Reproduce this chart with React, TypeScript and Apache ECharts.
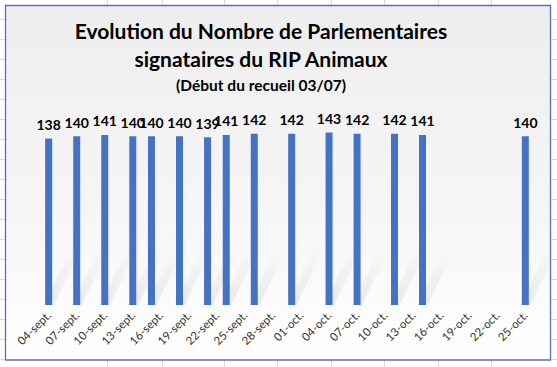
import React, { useEffect, useRef } from "react";
import * as echarts from "echarts";

const titleLine1 = "Evolution du Nombre de Parlementaires";
const titleLine2 = "signataires du RIP Animaux";
const subtitle = "(Début du recueil 03/07)";

// axis domain: every day from 04-sept. to 25-oct.
const septDays = { first: 4, last: 30, suffix: "-sept." };
const octDays = { first: 1, last: 25, suffix: "-oct." };

// observed points
const dates = [
  "04-sept.", "07-sept.", "10-sept.", "13-sept.", "15-sept.", "18-sept.", "21-sept.",
  "23-sept.", "26-sept.", "30-sept.", "04-oct.", "07-oct.", "11-oct.", "14-oct.", "25-oct.",
];
const values = [138, 140, 141, 140, 140, 140, 139, 141, 142, 142, 143, 142, 142, 141, 140];

const pad = (n: number) => (n < 10 ? "0" + n : "" + n);
const categories: string[] = [];
for (const m of [septDays, octDays]) {
  for (let d = m.first; d <= m.last; d++) categories.push(pad(d) + m.suffix);
}

const W = 557;
const H = 367;

export default function App() {
  const ref = useRef<HTMLDivElement>(null);
  useEffect(() => {
    if (!ref.current) return;
    const chart = echarts.init(ref.current, null, { renderer: "svg" });

    const barData = categories.map((c) => {
      const i = dates.indexOf(c);
      return i >= 0 ? values[i] : "-";
    });
    const shadowData = dates.map((d, i) => [categories.indexOf(d), values[i]]);

    const gridLines: any[] = [];
    const colXs = [107, 162, 224, 277, 331, 384, 438, 491];
    colXs.forEach((x) => {
      gridLines.push({ type: "line", z: -20, shape: { x1: x + 0.5, y1: 0, x2: x + 0.5, y2: 5 }, style: { stroke: "#d9d9d9", lineWidth: 1 } });
      gridLines.push({ type: "line", z: -20, shape: { x1: x + 0.5, y1: 360, x2: x + 0.5, y2: H }, style: { stroke: "#d9d9d9", lineWidth: 1 } });
    });
    for (let y = 19; y < H; y += 20) {
      gridLines.push({ type: "line", z: -20, shape: { x1: 0, y1: y + 0.5, x2: 5, y2: y + 0.5 }, style: { stroke: "#d9d9d9", lineWidth: 1 } });
      gridLines.push({ type: "line", z: -20, shape: { x1: 551, y1: y + 0.5, x2: W, y2: y + 0.5 }, style: { stroke: "#d9d9d9", lineWidth: 1 } });
    }

    chart.setOption({
      animation: false,
      backgroundColor: "#ffffff",
      graphic: [
        ...gridLines,
        {
          type: "rect",
          z: -10,
          shape: { x: 5.5, y: 5.5, width: 545, height: 354.5 },
          style: {
            fill: new echarts.graphic.LinearGradient(0, 0, 0, 1, [
              { offset: 0, color: "#eeeeee" },
              { offset: 0.6, color: "#f6f6f6" },
              { offset: 1, color: "#ffffff" },
            ]),
            stroke: "#5b6fb6",
            lineWidth: 1.3,
          },
        },
        {
          type: "text",
          x: 261,
          y: 30,
          style: {
            text: titleLine1,
            fontFamily: "Lato",
            fontWeight: "bold",
            fontSize: 21,
            fill: "#000000",
            textAlign: "center",
            textVerticalAlign: "middle",
          },
        },
        {
          type: "text",
          x: 261,
          y: 58,
          style: {
            text: titleLine2,
            fontFamily: "Lato",
            fontWeight: "bold",
            fontSize: 21,
            fill: "#000000",
            textAlign: "center",
            textVerticalAlign: "middle",
          },
        },
        {
          type: "text",
          x: 261,
          y: 85,
          style: {
            text: subtitle,
            fontFamily: "Lato",
            fontWeight: "bold",
            fontSize: 15.5,
            fill: "#000000",
            textAlign: "center",
            textVerticalAlign: "middle",
          },
        },
      ],
      grid: { left: 44, right: 27, top: 112, bottom: 62 },
      xAxis: {
        type: "category",
        data: categories,
        boundaryGap: true,
        axisLine: { show: false },
        axisTick: { show: false },
        axisLabel: {
          interval: 2,
          rotate: 45,
          margin: 8,
          fontFamily: "Lato",
          fontSize: 11.5,
          color: "#333333",
        },
      },
      yAxis: {
        type: "value",
        min: 0,
        max: 160,
        show: false,
        splitLine: { show: false },
      },
      series: [
        {
          type: "custom",
          z: 1,
          silent: true,
          data: shadowData,
          encode: { x: 0, y: 1 },
          renderItem: (params: any, api: any) => {
            const base = api.coord([api.value(0), 0]);
            const bx = base[0];
            const by = base[1];
            const dx = 28;
            const dy = 58;
            return {
              type: "polygon",
              shape: {
                points: [
                  [bx - 5, by],
                  [bx + 5, by],
                  [bx + 5 + dx, by - dy],
                  [bx - 5 + dx, by - dy],
                ],
              },
              style: {
                fill: new echarts.graphic.LinearGradient(0, 1, 0, 0, [
                  { offset: 0, color: "rgba(0,0,0,0.07)" },
                  { offset: 1, color: "rgba(0,0,0,0)" },
                ]),
              },
            };
          },
        },
        {
          type: "bar",
          z: 2,
          data: barData,
          barWidth: 7,
          itemStyle: { color: "#4472c4" },
          label: {
            show: true,
            position: "top",
            distance: 7,
            fontFamily: "Lato",
            fontWeight: "bold",
            fontSize: 14,
            color: "#000000",
          },
        },
      ],
    });
    return () => chart.dispose();
  }, []);

  return (
    <div
      ref={ref}
      style={{ position: "fixed", left: 0, top: 0, width: W, height: H }}
    />
  );
}
